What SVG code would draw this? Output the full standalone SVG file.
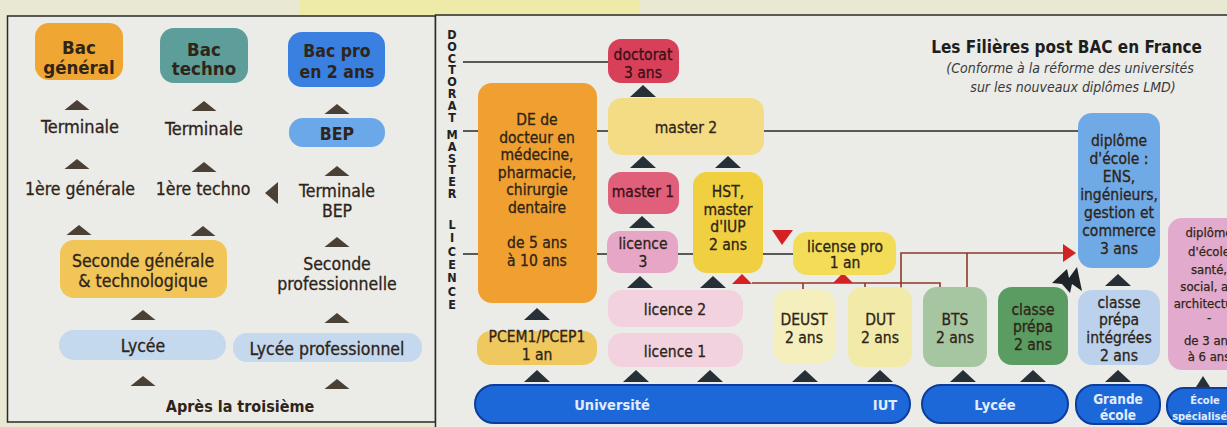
<svg xmlns="http://www.w3.org/2000/svg" xmlns:xlink="http://www.w3.org/1999/xlink" width="1227" height="427" viewBox="0 0 1227 427">
<style>
text{font-family:"DejaVu Sans Condensed","DejaVu Sans",sans-serif;font-stretch:condensed;text-anchor:middle;fill:#2e2418}
.L{font-size:17.5px;stroke:#2e2418;stroke-width:0.3}
.R{font-size:15.5px;stroke:#2e2418;stroke-width:0.3}
.B{font-weight:bold;stroke:none}
.bar text{font-weight:bold;fill:#e2ecff;font-size:14.5px}
.vl{font-size:12.5px;font-weight:bold;fill:#222;writing-mode:vertical-rl;text-orientation:upright;text-anchor:start;letter-spacing:-3.2px}
.ln{stroke:#2a2a2a;stroke-width:1.6;fill:none}
.rl{stroke:#8e3a28;stroke-width:1.6;fill:none}
.bar rect{fill:#1d68d8;stroke:#0c3c9c;stroke-width:2}
.dk{fill:#3a1016;stroke:#3a1016}
.sp{font-size:13px;stroke:#2e2418;stroke-width:0.25}
</style>
<defs>
<path id="tl" d="M-12.5 0 L12.5 0 L0 -10 Z" fill="#4a4036"/>
<path id="tr" d="M-13 0 L13 0 L0 -12 Z" fill="#263036"/>
<path id="tred" d="M-10 0 L10 0 L0 -10 Z" fill="#d42222"/>
</defs>
<rect x="0" y="0" width="1227" height="427" fill="#e9e8d2"/>
<rect x="300" y="0" width="340" height="15" fill="#eeeaa8"/>
<rect x="7.5" y="16" width="428" height="406" fill="#ebebe8" stroke="#2a2a2a" stroke-width="1.5"/>
<rect x="435.5" y="15" width="800" height="420" fill="#ebebe8" stroke="#2a2a2a" stroke-width="1.5"/>

<!-- Left panel -->
<g id="bac-general"><rect x="35" y="23" width="88" height="57" rx="14" fill="#f0a632"/><text class="L B" x="79" y="54" style="font-size:18.5px">Bac</text><text class="L B" x="79" y="74" style="font-size:18.5px">général</text></g>
<g id="bac-techno"><rect x="160" y="28" width="88" height="55" rx="14" fill="#5e9e9a"/><text class="L B" x="204" y="56" style="font-size:18.5px">Bac</text><text class="L B" x="204" y="75" style="font-size:18.5px">techno</text></g>
<g id="bac-pro"><rect x="288" y="32" width="97" height="55" rx="14" fill="#3a80e0"/><text class="L B" x="337" y="57" style="font-size:17.5px">Bac pro</text><text class="L B" x="337" y="78" style="font-size:17.5px">en 2 ans</text></g>
<g id="terminale-gen"><text class="L" x="80" y="133" style="font-size:18px">Terminale</text></g>
<g id="terminale-techno"><text class="L" x="204" y="135" style="font-size:18px">Terminale</text></g>
<g id="bep"><rect x="289" y="118" width="96" height="29" rx="14" fill="#6aa8ea"/><text class="L B" x="337" y="140">BEP</text></g>
<g id="premiere-gen"><text class="L" x="80" y="195">1ère générale</text></g>
<g id="premiere-techno"><text class="L" x="203" y="195">1ère techno</text></g>
<g id="terminale-bep"><text class="L" x="337" y="197">Terminale</text><text class="L" x="337" y="217">BEP</text></g>
<g id="seconde-gen"><rect x="60" y="240" width="167" height="58" rx="14" fill="#f2c558"/><text class="L" x="143" y="267">Seconde générale</text><text class="L" x="143" y="287">&amp; technologique</text></g>
<g id="seconde-pro"><text class="L" x="337" y="270">Seconde</text><text class="L" x="337" y="290">professionnelle</text></g>
<g id="lycee"><rect x="59" y="330" width="167" height="30" rx="15" fill="#c4d8ee"/><text class="L" x="143" y="352">Lycée</text></g>
<g id="lycee-pro"><rect x="233" y="333" width="189" height="29" rx="14" fill="#c4d8ee"/><text class="L" x="327" y="355">Lycée professionnel</text></g>
<g id="apres-troisieme"><text class="L B" x="240" y="412" style="font-size:16px">Après la troisième</text></g>

<!-- Right panel labels -->
<g id="axis-labels">
<text class="vl" x="452" y="27">DOCTORAT</text>
<text class="vl" x="452" y="127">MASTER</text>
<text class="vl" x="452" y="217" style="letter-spacing:-1.7px">LICENCE</text>
</g>
<g id="title">
<text class="B" x="1202" y="53" style="font-size:17px;text-anchor:end;fill:#1e1e1e">Les Filières post BAC en France</text>
<text x="1070" y="73" style="font-size:14px;font-style:italic;fill:#3a3a3a">(Conforme à la réforme des universités</text>
<text x="1073" y="92" style="font-size:14px;font-style:italic;fill:#3a3a3a">sur les nouveaux diplômes LMD)</text>
</g>

<!-- Connectors -->
<g id="connectors">
<path class="ln" d="M463 62 H608 M463 131 H478 M597 131 H608 M764 131 H1078 M463 254 H478 M597 254 H607 M678 254 H693 M763 254 H793"/>
<path class="rl" d="M752 283 H940 V289 M803 283 V289 M865 283 V288 M901 289 V253 H1064 M967 289 V253"/>
<use xlink:href="#tl" x="77" y="110"/><use xlink:href="#tl" x="204" y="111"/><use xlink:href="#tl" x="337" y="114"/>
<use xlink:href="#tl" x="77" y="169"/><use xlink:href="#tl" x="204" y="172"/><use xlink:href="#tl" x="337" y="176"/>
<polygon points="265,193 278,182 278,204" fill="#4a4036"/>
<use xlink:href="#tl" x="79" y="235"/><use xlink:href="#tl" x="203" y="236"/><use xlink:href="#tl" x="337" y="247"/>
<use xlink:href="#tl" x="143" y="320"/><use xlink:href="#tl" x="337" y="323"/>
<use xlink:href="#tl" x="143" y="386"/><use xlink:href="#tl" x="337" y="389"/>
<use xlink:href="#tr" x="643" y="97"/><use xlink:href="#tr" x="643" y="168"/><use xlink:href="#tr" x="728" y="168"/>
<use xlink:href="#tr" x="642" y="228"/><use xlink:href="#tr" x="640" y="288"/><use xlink:href="#tr" x="713" y="288"/>
<use xlink:href="#tr" x="537" y="320"/><use xlink:href="#tr" x="1118" y="286"/>
<use xlink:href="#tr" x="537" y="382"/><use xlink:href="#tr" x="636" y="382"/><use xlink:href="#tr" x="710" y="382"/><use xlink:href="#tr" x="805" y="382"/><use xlink:href="#tr" x="880" y="382"/><use xlink:href="#tr" x="963" y="382"/><use xlink:href="#tr" x="1033" y="382"/><use xlink:href="#tr" x="1118" y="382"/>
<path d="M1196 387 L1210 387 L1203 376 Z" fill="#263036"/>
<use xlink:href="#tred" x="742" y="284"/><use xlink:href="#tred" x="843" y="283"/>
<polygon points="772,230 793,230 782,245" fill="#d42222"/>
<polygon points="1063,244 1063,262 1076,253" fill="#d42222"/>
<polygon points="1052,283 1067,269 1069,278 1077,267 1082,291 1072,284 1070,293 1062,284" fill="#1e2428"/>
</g>

<!-- Right panel nodes -->
<g id="de-docteur"><rect x="478" y="83" width="119" height="220" rx="14" fill="#f0a030"/>
<text class="R" x="537" y="125">DE de</text><text class="R" x="537" y="142.5">docteur en</text><text class="R" x="537" y="160">médecine,</text><text class="R" x="537" y="177.5">pharmacie,</text><text class="R" x="537" y="195">chirurgie</text><text class="R" x="537" y="212.5">dentaire</text><text class="R" x="537" y="248">de 5 ans</text><text class="R" x="537" y="265.5">à 10 ans</text></g>
<g id="doctorat"><rect x="608" y="39" width="71" height="44" rx="13" fill="#d8405a"/><text class="R dk" x="643" y="60">doctorat</text><text class="R dk" x="643" y="78">3 ans</text></g>
<g id="master2"><rect x="608" y="98" width="156" height="57" rx="14" fill="#f4dc84"/><text class="R" x="686" y="133">master 2</text></g>
<g id="master1"><rect x="608" y="172" width="71" height="42" rx="13" fill="#e0607c"/><text class="R dk" x="643" y="197">master 1</text></g>
<g id="hst"><rect x="693" y="172" width="70" height="101" rx="14" fill="#f0d040"/><text class="R" x="728" y="197">HST,</text><text class="R" x="728" y="215">master</text><text class="R" x="728" y="232">d'IUP</text><text class="R" x="728" y="250">2 ans</text></g>
<g id="licence3"><rect x="607" y="231" width="71" height="42" rx="13" fill="#e8a6c6"/><text class="R" x="643" y="249">licence</text><text class="R" x="643" y="267">3</text></g>
<g id="license-pro"><rect x="793" y="232" width="103" height="43" rx="14" fill="#f2dc58"/><text class="R" x="845" y="252">license pro</text><text class="R" x="845" y="268">1 an</text></g>
<g id="licence2"><rect x="608" y="290" width="135" height="37" rx="14" fill="#f2d2de"/><text class="R" x="675" y="315">licence 2</text></g>
<g id="licence1"><rect x="608" y="333" width="135" height="34" rx="14" fill="#f2d2de"/><text class="R" x="675" y="357">licence 1</text></g>
<g id="pcem"><rect x="477" y="331" width="120" height="34" rx="14" fill="#f0c860"/><text class="R" x="537" y="342">PCEM1/PCEP1</text><text class="R" x="537" y="360">1 an</text></g>
<g id="deust"><rect x="773" y="290" width="62" height="73" rx="14" fill="#f4efbc"/><text class="R" x="804" y="325">DEUST</text><text class="R" x="804" y="343">2 ans</text></g>
<g id="dut"><rect x="848" y="287" width="64" height="80" rx="14" fill="#f2eaa8"/><text class="R" x="880" y="325">DUT</text><text class="R" x="880" y="343">2 ans</text></g>
<g id="bts"><rect x="923" y="287" width="64" height="80" rx="14" fill="#a6c6a2"/><text class="R" x="955" y="325">BTS</text><text class="R" x="955" y="343">2 ans</text></g>
<g id="classe-prepa"><rect x="998" y="287" width="70" height="78" rx="14" fill="#5a9c62"/><text class="R" x="1033" y="315">classe</text><text class="R" x="1033" y="332">prépa</text><text class="R" x="1033" y="350">2 ans</text></g>
<g id="diplome-ecole"><rect x="1078" y="113" width="82" height="155" rx="14" fill="#70aae6"/>
<text class="R" x="1119" y="146">diplôme</text><text class="R" x="1119" y="164">d'école :</text><text class="R" x="1119" y="182">ENS,</text><text class="R" x="1119" y="200">ingénieurs,</text><text class="R" x="1119" y="218">gestion et</text><text class="R" x="1119" y="236">commerce</text><text class="R" x="1119" y="254">3 ans</text></g>
<g id="classe-prepa-integrees"><rect x="1078" y="290" width="82" height="75" rx="14" fill="#bcd2ec"/><text class="R" x="1119" y="308">classe</text><text class="R" x="1119" y="325">prépa</text><text class="R" x="1119" y="343">intégrées</text><text class="R" x="1119" y="361">2 ans</text></g>
<g id="diplome-specialise"><rect x="1168" y="218" width="72" height="152" rx="14" fill="#e2aacc"/>
<text class="sp" x="1209" y="237">diplôme</text><text class="sp" x="1209" y="256">d'école</text><text class="sp" x="1209" y="274">santé,</text><text class="sp" x="1209" y="291">social, art</text><text class="sp" x="1209" y="308">architecture</text><text class="sp" x="1209" y="322">-</text><text class="sp" x="1209" y="345">de 3 ans</text><text class="sp" x="1209" y="361">à 6 ans</text></g>

<g id="universite-iut" class="bar"><rect x="475" y="385" width="435" height="38" rx="19"/><text x="612" y="410">Université</text><text x="885" y="410">IUT</text></g>
<g id="lycee-bar" class="bar"><rect x="922" y="385" width="146" height="38" rx="19"/><text x="995" y="410">Lycée</text></g>
<g id="grande-ecole" class="bar"><rect x="1076" y="385" width="84" height="39" rx="18"/><text x="1118" y="404" style="font-size:13.5px">Grande</text><text x="1118" y="420" style="font-size:13.5px">école</text></g>
<g id="ecole-specialisee" class="bar"><rect x="1167" y="388" width="75" height="36" rx="17"/><text x="1205" y="404" style="font-size:11px">École</text><text x="1203" y="420" style="font-size:11px">spécialisée</text></g>
</svg>
